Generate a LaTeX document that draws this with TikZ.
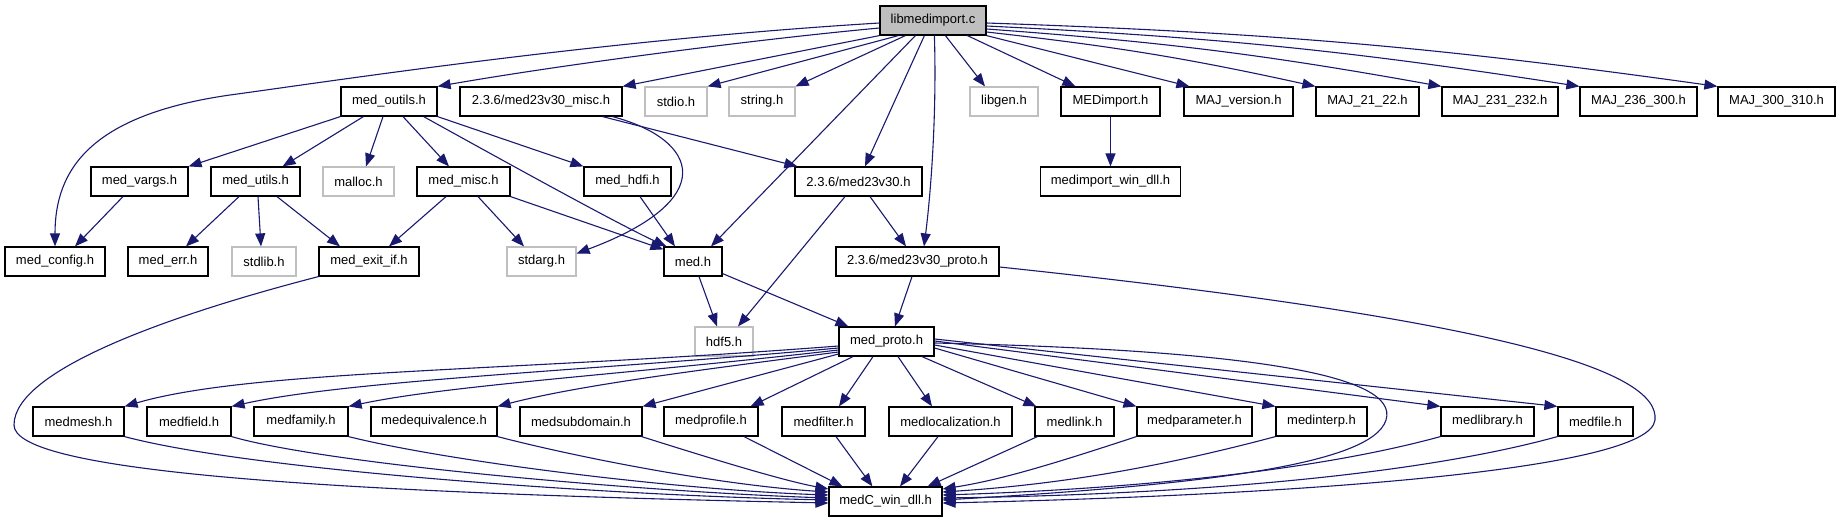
\documentclass[tikz,border=0pt]{standalone}
\usepackage{fontspec}
\setmainfont{Liberation Sans}
\usetikzlibrary{arrows.meta}
\definecolor{edgecol}{HTML}{191970}
\definecolor{graybox}{HTML}{BFBFBF}
\begin{document}
\begin{tikzpicture}[x=1pt,y=-1pt,
  hbox/.style={draw=black, line width=1.2pt, minimum height=29pt, inner sep=0pt, font=\fontsize{13}{15}\selectfont, anchor=center},
  sysbox/.style={hbox, draw=graybox},
  rootbox/.style={hbox, fill=graybox},
  edge/.style={draw=edgecol, line width=1.1pt, -{Triangle[length=13pt,width=10pt]}}]
\useasboundingbox[fill=white] (0,0) rectangle (1840,523);
% row 0
\node[rootbox, minimum width=106pt] (lib) at (933,20.5) {libmedimport.c};
% row 1
\node[hbox, minimum width=96pt] (outils) at (389,101.5) {med\_outils.h};
\node[hbox, minimum width=162pt] (misc) at (541,101.5) {2.3.6/med23v30\_misc.h};
\node[sysbox, minimum width=62pt] (stdio) at (676,101.5) {stdio.h};
\node[sysbox, minimum width=66pt] (string) at (762,101.5) {string.h};
\node[sysbox, minimum width=68pt] (libgen) at (1004,101.5) {libgen.h};
\node[hbox, minimum width=99pt] (MEDimport) at (1110.5,101.5) {MEDimport.h};
\node[hbox, minimum width=109pt] (majv) at (1238.5,101.5) {MAJ\_version.h};
\node[hbox, minimum width=103pt] (maja) at (1367.5,101.5) {MAJ\_21\_22.h};
\node[hbox, minimum width=116pt] (majb) at (1500,101.5) {MAJ\_231\_232.h};
\node[hbox, minimum width=117pt] (majc) at (1638.5,101.5) {MAJ\_236\_300.h};
\node[hbox, minimum width=117pt] (majd) at (1776.5,101.5) {MAJ\_300\_310.h};
% row 2
\node[hbox, minimum width=97pt] (vargs) at (139.5,181.5) {med\_vargs.h};
\node[hbox, minimum width=89pt] (utils) at (255.5,181.5) {med\_utils.h};
\node[sysbox, minimum width=71pt] (malloc) at (358.5,181.5) {malloc.h};
\node[hbox, minimum width=93pt] (medmisc) at (463.5,181.5) {med\_misc.h};
\node[hbox, minimum width=87pt] (hdfi) at (627.5,181.5) {med\_hdfi.h};
\node[hbox, minimum width=127pt] (v30) at (858.5,181.5) {2.3.6/med23v30.h};
\node[hbox, minimum width=140pt] (windll) at (1110.5,181.5) {medimport\_win\_dll.h};
% row 3
\node[hbox, minimum width=100pt] (config) at (55,261.5) {med\_config.h};
\node[hbox, minimum width=80pt] (err) at (168,261.5) {med\_err.h};
\node[sysbox, minimum width=64pt] (stdlib) at (264,261.5) {stdlib.h};
\node[hbox, minimum width=100pt] (exitif) at (369,261.5) {med\_exit\_if.h};
\node[sysbox, minimum width=69pt] (stdarg) at (541.5,261.5) {stdarg.h};
\node[hbox, minimum width=58pt] (med) at (693,261.5) {med.h};
\node[hbox, minimum width=163pt] (proto) at (917.5,261.5) {2.3.6/med23v30\_proto.h};
% row 4
\node[sysbox, minimum width=58pt] (hdf5) at (724,341.5) {hdf5.h};
\node[hbox, minimum width=95pt] (medproto) at (886.5,341.5) {med\_proto.h};
% row 5
\node[hbox, minimum width=91pt] (medmesh) at (78.5,421.5) {medmesh.h};
\node[hbox, minimum width=84pt] (medfield) at (189,421.5) {medfield.h};
\node[hbox, minimum width=94pt] (medfamily) at (301,421.5) {medfamily.h};
\node[hbox, minimum width=126pt] (medequiv) at (434,421.5) {medequivalence.h};
\node[hbox, minimum width=122pt] (medsub) at (581,421.5) {medsubdomain.h};
\node[hbox, minimum width=94pt] (medprofile) at (711,421.5) {medprofile.h};
\node[hbox, minimum width=83pt] (medfilter) at (823.5,421.5) {medfilter.h};
\node[hbox, minimum width=123pt] (medloc) at (950.5,421.5) {medlocalization.h};
\node[hbox, minimum width=79pt] (medlink) at (1074.5,421.5) {medlink.h};
\node[hbox, minimum width=115pt] (medparam) at (1194.5,421.5) {medparameter.h};
\node[hbox, minimum width=91pt] (medinterp) at (1321.5,421.5) {medinterp.h};
\node[hbox, minimum width=93pt] (medlib) at (1487.5,421.5) {medlibrary.h};
\node[hbox, minimum width=75pt] (medfile) at (1595.5,421.5) {medfile.h};
% row 6
\node[hbox, minimum width=113pt] (medC) at (885.5,501.5) {medC\_win\_dll.h};

% edges from libmedimport.c
\draw[edge] ([yshift=-2.5pt]lib.west) .. controls (600,40) and (340,80) .. (230,95) .. controls (90,115) and (55,170) .. (config.north);
\draw[edge] ([yshift=-7.5pt]lib.west) .. controls (750,40) and (560,65) .. (outils.north east);
\draw[edge] (lib.south west) -- (misc.north east);
\draw[edge] ([xshift=19pt]lib.south west) -- (stdio.north east);
\draw[edge] ([xshift=26pt]lib.south west) -- (string.north east);
\draw[edge] ([xshift=36pt]lib.south west) -- ([xshift=18pt]med.north);
\draw[edge] ([xshift=45pt]lib.south west) -- ([xshift=6.5pt]v30.north);
\draw[edge] ([xshift=55pt]lib.south west) .. controls (937,120) and (930,200) .. ([xshift=6.5pt]proto.north);
\draw[edge] ([xshift=66pt]lib.south west) -- ([xshift=-19pt]libgen.north);
\draw[edge] ([xshift=88pt]lib.south west) -- ([xshift=15pt]MEDimport.north west);
\draw[edge] (lib.south east) -- ([xshift=6pt]majv.north west);
\draw[edge] ([yshift=-11.5pt]lib.east) to[bend left=3] (maja.north west);
\draw[edge] ([yshift=-8.5pt]lib.east) to[bend left=3] (majb.north west);
\draw[edge] ([yshift=-5.5pt]lib.east) to[bend left=3] (majc.north west);
\draw[edge] ([yshift=-2.5pt]lib.east) to[bend left=3] (majd.north west);

% edges from med_outils.h
\draw[edge] (outils.south west) -- (vargs.north east);
\draw[edge] ([xshift=23pt]outils.south west) -- ([xshift=-18pt]utils.north east);
\draw[edge] ([xshift=-6pt]outils.south) -- ([xshift=7.5pt]malloc.north);
\draw[edge] ([xshift=14pt]outils.south) -- ([xshift=-14.5pt]medmisc.north);
\draw[edge] (outils.south east) -- (hdfi.north west);
\draw[edge] ([xshift=-14pt]outils.south east) .. controls (520,170) and (620,225) .. ([xshift=3pt]med.north west);

% edges from 2.3.6/med23v30_misc.h
\draw[edge] ([xshift=-20pt]misc.south east) -- ([xshift=3pt]v30.north west);
\draw[edge] ([xshift=-10pt]misc.south east) .. controls (700,140) and (720,200) .. ([yshift=8pt]stdarg.east);

% row 2 edges
\draw[edge] ([xshift=-16.5pt]vargs.south) -- ([xshift=20pt]config.north);
\draw[edge] ([xshift=-16.5pt]utils.south) -- ([xshift=18pt]err.north);
\draw[edge] ([xshift=2.5pt]utils.south) -- ([xshift=-3pt]stdlib.north);
\draw[edge] ([xshift=21.5pt]utils.south) -- ([xshift=-29pt]exitif.north);
\draw[edge] ([xshift=-17.5pt]medmisc.south) -- ([xshift=20pt]exitif.north);
\draw[edge] ([xshift=14.5pt]medmisc.south) -- ([xshift=-17.5pt]stdarg.north);
\draw[edge] (medmisc.south east) -- ([yshift=-3pt]med.north west);
\draw[edge] ([xshift=12.5pt]hdfi.south) -- ([xshift=-18pt]med.north);
\draw[edge] ([xshift=-13.5pt]v30.south) -- ([xshift=14pt]hdf5.north);
\draw[edge] ([xshift=11.5pt]v30.south) -- ([xshift=-11.5pt]proto.north);
\draw[edge] (MEDimport.south) -- (windll.north);

% row 3 edges
\draw[edge] ([xshift=6pt]med.south) -- ([xshift=-7pt]hdf5.north);
\draw[edge] ([yshift=3pt]med.south east) -- ([xshift=10pt]medproto.north west);
\draw[edge] ([xshift=-5.5pt]proto.south) -- ([xshift=8.5pt]medproto.north);
\draw[edge] ([yshift=-5.5pt]proto.east) .. controls (1500,320) and (1660,370) .. (1655,420) .. controls (1650,470) and (1300,495) .. ([yshift=-1.5pt]medC.east);
\draw[edge] (exitif.south west) .. controls (170,315) and (14,370) .. (14,425) .. controls (14,470) and (300,492) .. ([yshift=-1.5pt]medC.west);

% edges from med_proto.h
\draw[edge] ([yshift=-4.5pt]medproto.west) .. controls (500,372) and (250,370) .. (medmesh.north east);
\draw[edge] ([yshift=-6.5pt]medproto.west) .. controls (600,370) and (350,380) .. (medfield.north east);
\draw[edge] ([yshift=-8.5pt]medproto.west) .. controls (620,375) and (450,385) .. (medfamily.north east);
\draw[edge] ([yshift=-10.5pt]medproto.west) .. controls (700,370) and (580,385) .. (medequiv.north east);
\draw[edge] ([yshift=-12.5pt]medproto.west) -- (medsub.north east);
\draw[edge] ([xshift=-33.5pt]medproto.south) -- ([xshift=-8pt]medprofile.north east);
\draw[edge] ([xshift=-13.5pt]medproto.south) -- ([xshift=15.5pt]medfilter.north);
\draw[edge] ([xshift=11.5pt]medproto.south) -- ([xshift=-18.5pt]medloc.north);
\draw[edge] ([xshift=35.5pt]medproto.south) -- ([xshift=2pt]medlink.north west);
\draw[edge] ([yshift=-6.5pt]medproto.east) -- (medparam.north west);
\draw[edge] ([yshift=-3.5pt]medproto.east) -- (medinterp.north west);
\draw[edge] ([yshift=0.5pt]medproto.east) -- (medlib.north west);
\draw[edge] ([yshift=2.5pt]medproto.east) -- (medfile.north west);
\draw[edge] ([yshift=-1.5pt]medproto.east) .. controls (1250,350) and (1400,375) .. (1386,420) .. controls (1372,465) and (1200,485) .. ([yshift=1.5pt]medC.east);

% row 5 edges to medC_win_dll.h
\draw[edge] (medmesh.south east) .. controls (250,470) and (600,495) .. ([yshift=1.5pt]medC.west);
\draw[edge] (medfield.south east) .. controls (330,465) and (650,492) .. ([yshift=3.5pt]medC.west);
\draw[edge] (medfamily.south east) .. controls (450,462) and (680,490) .. ([yshift=6.5pt]medC.west);
\draw[edge] (medequiv.south east) .. controls (580,458) and (720,485) .. ([yshift=9.5pt]medC.west);
\draw[edge] ([xshift=-1pt]medsub.south east) .. controls (700,455) and (780,480) .. ([yshift=12.5pt]medC.west);
\draw[edge] ([xshift=33pt]medprofile.south) -- ([xshift=14pt]medC.north west);
\draw[edge] ([xshift=12.5pt]medfilter.south) -- ([xshift=44pt]medC.north west);
\draw[edge] ([xshift=-12.5pt]medloc.south) -- ([xshift=14.5pt]medC.north);
\draw[edge] ([xshift=3pt]medlink.south west) -- ([xshift=-15pt]medC.north east);
\draw[edge] (medparam.south west) .. controls (1050,465) and (1000,480) .. ([yshift=12.5pt]medC.east);
\draw[edge] (medinterp.south west) .. controls (1150,470) and (1050,485) .. ([yshift=9.5pt]medC.east);
\draw[edge] (medlib.south west) .. controls (1300,475) and (1100,490) .. ([yshift=6.5pt]medC.east);
\draw[edge] (medfile.south west) .. controls (1400,480) and (1150,495) .. ([yshift=3.5pt]medC.east);
\end{tikzpicture}
\end{document}
